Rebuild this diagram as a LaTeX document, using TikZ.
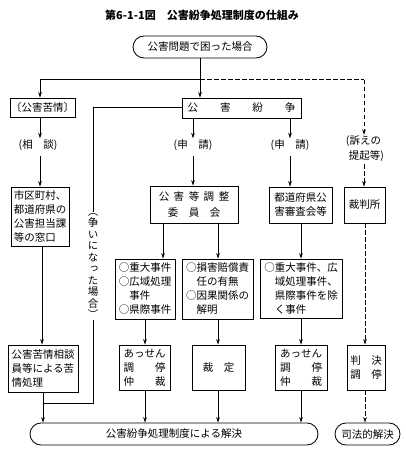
\documentclass[tikz,border=0pt]{standalone}
\usepackage{fontspec}
\setmainfont{Noto Sans CJK JP}
\newfontfamily\vcjk[RawFeature=+vert]{Noto Sans CJK JP}
\usetikzlibrary{arrows.meta}
\newcommand{\fs}{\fontsize{10.5pt}{14pt}\selectfont}
\tikzset{
  box/.style={draw, line width=0.85pt, inner sep=0pt, align=left, font=\fs},
  rbox/.style={box, rounded corners=11pt, align=center},
  lbl/.style={inner sep=1pt, align=left, font=\fs},
  conn/.style={line width=1pt},
  arr/.style={conn, -{Stealth[length=5.5pt,width=3.6pt]}},
  dsh/.style={conn, dash pattern=on 4.5pt off 2.5pt},
  dsharr/.style={dsh, -{Stealth[length=5.5pt,width=3.6pt]}},
}
\begin{document}
\begin{tikzpicture}[x=1pt,y=-1pt]
\useasboundingbox (0,0) rectangle (406,457);
% title
\node[inner sep=0pt, font=\bfseries\fontsize{11pt}{13pt}\selectfont] (title) at (202,15) {第6-1-1図　公害紛争処理制度の仕組み};
% boxes
\node[rbox, minimum width=134pt, minimum height=22pt] (top) at (200,47) {公害問題で困った場合};
\node[box, minimum width=65pt, minimum height=19pt, align=center] (kujo) at (42.5,107.5) {〔公害苦情〕};
\node[box, minimum width=119pt, minimum height=20pt, align=center] (funso) at (241.5,108) {公\hspace{22pt}害\hspace{22pt}紛\hspace{22pt}争};
\node[box, minimum width=58pt, minimum height=59pt] (shichoson) at (40,216.5) {市区町村、\\都道府県の\\公害担当課\\等の窓口};
\node[box, minimum width=70pt, minimum height=47pt] (sodanin) at (43,368.5) {公害苦情相談\\員等による苦\\情処理};
\node[box, minimum width=88pt, minimum height=37pt, align=center] (kochoi) at (194,204.5) {公\hspace{4.5pt}害\hspace{4.5pt}等\hspace{4.5pt}調\hspace{4.5pt}整\\[2pt]委\hspace{10.5pt}員\hspace{10.5pt}会};
\node[box, minimum width=60pt, minimum height=60pt] (jyudai) at (145,289) {○重大事件\\○広域処理\\　事件\\○県際事件};
\node[box, minimum width=71pt, minimum height=60pt] (songai) at (217.5,289) {○損害賠償責\\　任の有無\\○因果関係の\\　解明};
\node[box, minimum width=51pt, minimum height=45pt] (assenA) at (144.5,367.5) {あっせん\\調　　停\\仲　　裁};
\node[box, minimum width=53pt, minimum height=45pt, align=center] (saitei) at (218.5,367.5) {裁　定};
\node[box, minimum width=63pt, minimum height=36pt] (todofuken) at (300.5,205) {都道府県公\\害審査会等};
\node[box, minimum width=82pt, minimum height=59pt] (jogai) at (301,288.5) {○重大事件、広\\　域処理事件、\\　県際事件を除\\　く事件};
\node[box, minimum width=52pt, minimum height=45pt] (assenB) at (301,367.5) {あっせん\\調　　停\\仲　　裁};
\node[box, minimum width=41pt, minimum height=36pt, align=center] (saibansho) at (364.5,205) {裁判所};
\node[box, minimum width=38pt, minimum height=45pt] (hanketsu) at (366,367.5) {判　決\\調　停};
\node[rbox, minimum width=288pt, minimum height=22pt] (kaiketsu) at (174,434) {公害紛争処理制度による解決};
\node[rbox, minimum width=65pt, minimum height=22pt] (shiho) at (367.5,434) {司法的解決};
% labels
\node[lbl] (sodan) at (38,145) {(相　談)};
\node[lbl] (shinA) at (193,145) {(申　請)};
\node[lbl] (shinB) at (290,145) {(申　請)};
\node[lbl, align=left, font=\fontsize{10.5pt}{15pt}\selectfont] (uttae) at (365,149) {(訴えの\\\hspace{3pt}提起等)};
\node[inner sep=1pt, align=center, font=\vcjk\fontsize{10.5pt}{11.5pt}\selectfont] (arasoi) at (93,266) {（\\争\\い\\に\\な\\っ\\た\\場\\合\\）};
% named x positions
\coordinate (jl) at (40,80);
\coordinate (jr) at (364,80);
\coordinate (xA) at (193,0);
\coordinate (xB) at (290,0);
\coordinate (xC) at (163,0);
\coordinate (xD) at (218,0);
\coordinate (xE) at (145,0);
\coordinate (xF) at (301,0);
\coordinate (xG) at (42,0);
\coordinate (xH) at (43,0);
\coordinate (xL) at (93,0);
\coordinate (xR) at (365,0);
\coordinate (jb) at (43,403);
% connectors
\draw[arr] (top.south) -- (top.south |- funso.north);
\draw[conn] (top.south |- jl) -- (jl);
\draw[arr] (jl) -- (jl |- kujo.north);
\draw[dsh] (top.south |- jr) -- (jr);
\draw[dsharr] (jr) -- (jr |- uttae.north);
\draw[dsharr, shorten <=1pt] (jr |- uttae.south) -- (jr |- saibansho.north);
\draw[arr] (kujo.south -| jl) -- (sodan.north -| jl);
\draw[arr, shorten <=4pt] (sodan.south -| jl) -- (shichoson.north -| jl);
\draw[arr] (funso.south -| xA) -- (shinA.north -| xA);
\draw[arr, shorten <=4pt] (shinA.south -| xA) -- (kochoi.north -| xA);
\draw[arr] (funso.south -| xB) -- (shinB.north -| xB);
\draw[arr, shorten <=4pt] (shinB.south -| xB) -- (todofuken.north -| xB);
\draw[arr] (kochoi.south -| xC) -- (jyudai.north -| xC);
\draw[arr] (kochoi.south -| xD) -- (songai.north -| xD);
\draw[arr] (jyudai.south -| xE) -- (assenA.north -| xE);
\draw[arr] (assenA.south -| xE) -- (kaiketsu.north -| xE);
\draw[arr] (songai.south -| xD) -- (saitei.north -| xD);
\draw[arr] (saitei.south -| xD) -- (kaiketsu.north -| xD);
\draw[arr] (todofuken.south -| xF) -- (jogai.north -| xF);
\draw[arr] (jogai.south -| xF) -- (assenB.north -| xF);
\draw[arr] (assenB.south -| xF) -- (kaiketsu.north -| xF);
\draw[arr] (shichoson.south -| xG) -- (sodanin.north -| xG);
\draw[arr] (sodanin.south -| xH) -- (kaiketsu.north -| xH);
\draw[conn] (funso.west) -- (funso.west -| xL) -- (arasoi.north);
\draw[conn] (arasoi.south) -- (jb -| xL) -- (jb);
\draw[dsharr] (saibansho.south -| xR) -- (hanketsu.north -| xR);
\draw[dsharr] (hanketsu.south -| xR) -- (shiho.north -| xR);
\end{tikzpicture}
\end{document}
